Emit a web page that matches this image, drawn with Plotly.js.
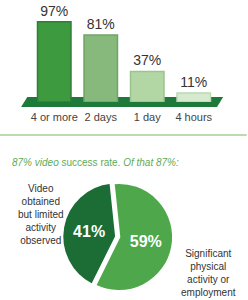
<!DOCTYPE html>
<html>
<head>
<meta charset="utf-8">
<script src="https://cdn.plot.ly/plotly-3.0.1.min.js"></script>
<style>html,body{margin:0;padding:0;background:#fff;}#chart{width:248px;height:300px;}</style>
</head>
<body>
<div id="chart"></div>
<script>
// Data
const barCategories = ['4 or more', '2 days', '1 day', '4 hours'];
const barValues = [97, 81, 37, 11];
const pieLabels = ['Significant physical activity or employment', 'Video obtained but limited activity observed'];
const pieValues = [59, 41];
const headline = '<i>87% video</i> success rate. <i>Of that 87%:</i>';
const leftLabel = 'Video<br>obtained<br>but limited<br>activity<br>observed';
const rightLabel = 'Significant<br>physical<br>activity or<br>employment';

// Styles
const barColors = ['#3d9a3f', '#86b97b', '#b3d6a5', '#d6ead0'];
const barLines = ['#2f7f33', '#70a565', '#9cc48e', '#bcd9b2'];
const pieColors = ['#4ea84b', '#1b6c35'];
const font = 'Liberation Sans, Arial, sans-serif';

const traces = [
  {
    type: 'bar',
    x: barCategories,
    y: barValues,
    text: barValues.map(v => v + '%'),
    textposition: 'outside',
    cliponaxis: false,
    textfont: {family: font, size: 14, color: '#333'},
    marker: {color: barColors, line: {color: barLines, width: 1.5}},
    width: 0.72,
    hoverinfo: 'skip',
    xaxis: 'x', yaxis: 'y'
  },
  {
    type: 'pie',
    labels: pieLabels,
    values: pieValues,
    sort: false,
    direction: 'clockwise',
    rotation: -6,
    pull: [0, 0.05],
    marker: {colors: pieColors, line: {color: '#ffffff', width: 2.5}},
    textinfo: 'percent',
    texttemplate: '%{value}%',
    textposition: 'inside',
    insidetextorientation: 'horizontal',
    textfont: {family: font, size: 16, color: '#ffffff', weight: 'bold'},
    domain: {x: [0.25, 0.71], y: [0.02, 0.40]},
    showlegend: false,
    hoverinfo: 'skip'
  }
];

const layout = {
  width: 248, height: 300,
  margin: {l: 0, r: 0, t: 0, b: 0},
  paper_bgcolor: '#ffffff', plot_bgcolor: 'rgba(0,0,0,0)',
  showlegend: false,
  font: {family: font, color: '#333'},
  xaxis: {
    domain: [0.125, 0.875], range: [-0.5, 3.5],
    showgrid: false, zeroline: false, showline: false, ticks: '',
    ticklabelstandoff: 7,
    tickfont: {family: font, size: 11, color: '#444'}
  },
  yaxis: {
    domain: [0.66, 0.963], range: [0, 110], visible: false, fixedrange: true
  },
  shapes: [
    {type: 'path', xref: 'paper', yref: 'paper', layer: 'below',
     path: 'M 0.085 0.643 L 0.11 0.677 L 0.9 0.677 L 0.875 0.643 Z',
     fillcolor: '#1d7a3a', line: {width: 0}},
    {type: 'line', xref: 'paper', yref: 'paper',
     x0: 0, x1: 0.995, y0: 0.55, y1: 0.55,
     line: {color: '#a3d193', width: 1.5}}
  ],
  annotations: [
    {xref: 'paper', yref: 'paper', x: 0.04, y: 0.457, xanchor: 'left', yanchor: 'middle',
     text: headline, showarrow: false,
     font: {family: font, size: 10, color: '#5eab57'}},
    {xref: 'paper', yref: 'paper', x: 0.165, y: 0.285, xanchor: 'center', yanchor: 'middle',
     text: leftLabel, showarrow: false, align: 'center',
     font: {family: font, size: 10, color: '#333'}},
    {xref: 'paper', yref: 'paper', x: 0.84, y: 0.09, xanchor: 'center', yanchor: 'middle',
     text: rightLabel, showarrow: false, align: 'center',
     font: {family: font, size: 10, color: '#333'}}
  ]
};

Plotly.newPlot('chart', traces, layout, {displayModeBar: false, staticPlot: true});
</script>
</body>
</html>
